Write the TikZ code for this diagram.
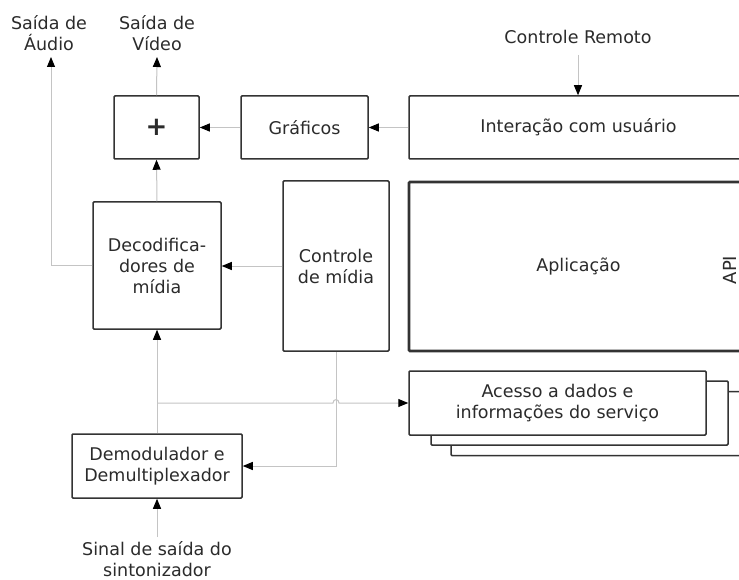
\documentclass[tikz,border=0pt]{standalone}
\usepackage{fontspec}
\setmainfont{DejaVu Sans}
\usetikzlibrary{arrows.meta}
\definecolor{txt}{HTML}{2B2B2B}
\definecolor{bord}{HTML}{333333}
\definecolor{conn}{HTML}{C4C4C4}
\tikzset{
  box/.style={draw=bord,line width=1.5pt,fill=white,rounded corners=1pt,inner sep=0pt,
    align=center,text=txt,font=\fontsize{17.5}{21}\selectfont},
  lbl/.style={align=center,text=txt,font=\fontsize{17.5}{21}\selectfont,inner sep=0pt},
  conline/.style={draw=conn,line width=1pt},
  arr/.style={conline,-{Triangle[length=10pt,width=8pt,color=black]}}
}
\begin{document}
\begin{tikzpicture}[x=1pt,y=-1pt]
\useasboundingbox (0,0) rectangle (739,580);
\clip (0,0) rectangle (739,580);
\fill[white] (0,0) rectangle (739,580);
% boxes
\node[box,minimum width=85pt,minimum height=63pt,font=\fontsize{26}{28}\selectfont\bfseries] (plus) at (156.5,127.5) {+};
\node[box,minimum width=127pt,minimum height=63pt] (graf) at (304.5,127.5) {Gráficos};
\node[box,minimum width=339pt,minimum height=63pt] (inter) at (578.5,127.5) {Interação com usuário};
\node[box,minimum width=128pt,minimum height=127pt] (dec) at (157,265.5) {Decodifica-\\dores de\\mídia};
\node[box,minimum width=106pt,minimum height=170pt] (cmid) at (336,266) {Controle\\de mídia};
\node[box,line width=2.8pt,minimum width=339pt,minimum height=169pt] (app) at (578.5,266.5) {Aplicação};
\node[lbl,rotate=90,font=\fontsize{18}{21}\selectfont] (api) at (729.5,270) {API};
\node[box,minimum width=297pt,minimum height=64pt] (acc3) at (599.5,423.5) {};
\node[box,minimum width=297pt,minimum height=64pt] (acc2) at (579.5,413) {};
\node[box,minimum width=297pt,minimum height=64pt] (acc) at (557.5,403) {Acesso a dados e\\informações do serviço};
\node[box,minimum width=170pt,minimum height=64pt] (demod) at (157,466) {Demodulador e\\Demultiplexador};
% labels
\node[lbl] (aud) at (49,33) {Saída de\\Áudio};
\node[lbl] (vid) at (157,33) {Saída de\\Vídeo};
\node[lbl] (rem) at (578,37) {Controle Remoto};
\node[lbl] (sin) at (157,559) {Sinal de saída do\\sintonizador};
% coordinates
\coordinate (audtip) at (51,57);
\coordinate (vidtip) at (157,57);
\coordinate (remtop) at (578,55);
\coordinate (sinbot) at (157,537);
\coordinate (br) at (157,403);
\coordinate (hopa) at (333,403);
\coordinate (hopb) at (339,403);
% connectors
\draw[arr] (dec.west) -| (audtip);
\draw[arr] (plus.north) -- (vidtip);
\draw[arr] (dec.north) -- (plus.south);
\draw[arr] (graf.west) -- (plus.east);
\draw[arr] (inter.west) -- (graf.east);
\draw[arr] (remtop) -- (inter.north -| remtop);
\draw[arr] (cmid.west) -- (cmid.west -| dec.east);
\draw[arr] (demod.north) -- (dec.south);
\draw[arr] (br) -- (hopa) .. controls (333,398.5) and (339,398.5) .. (hopb) -- (acc.west);
\draw[arr] (cmid.south) |- (demod.east);
\draw[arr] (sinbot) -- (demod.south);
\end{tikzpicture}
\end{document}
